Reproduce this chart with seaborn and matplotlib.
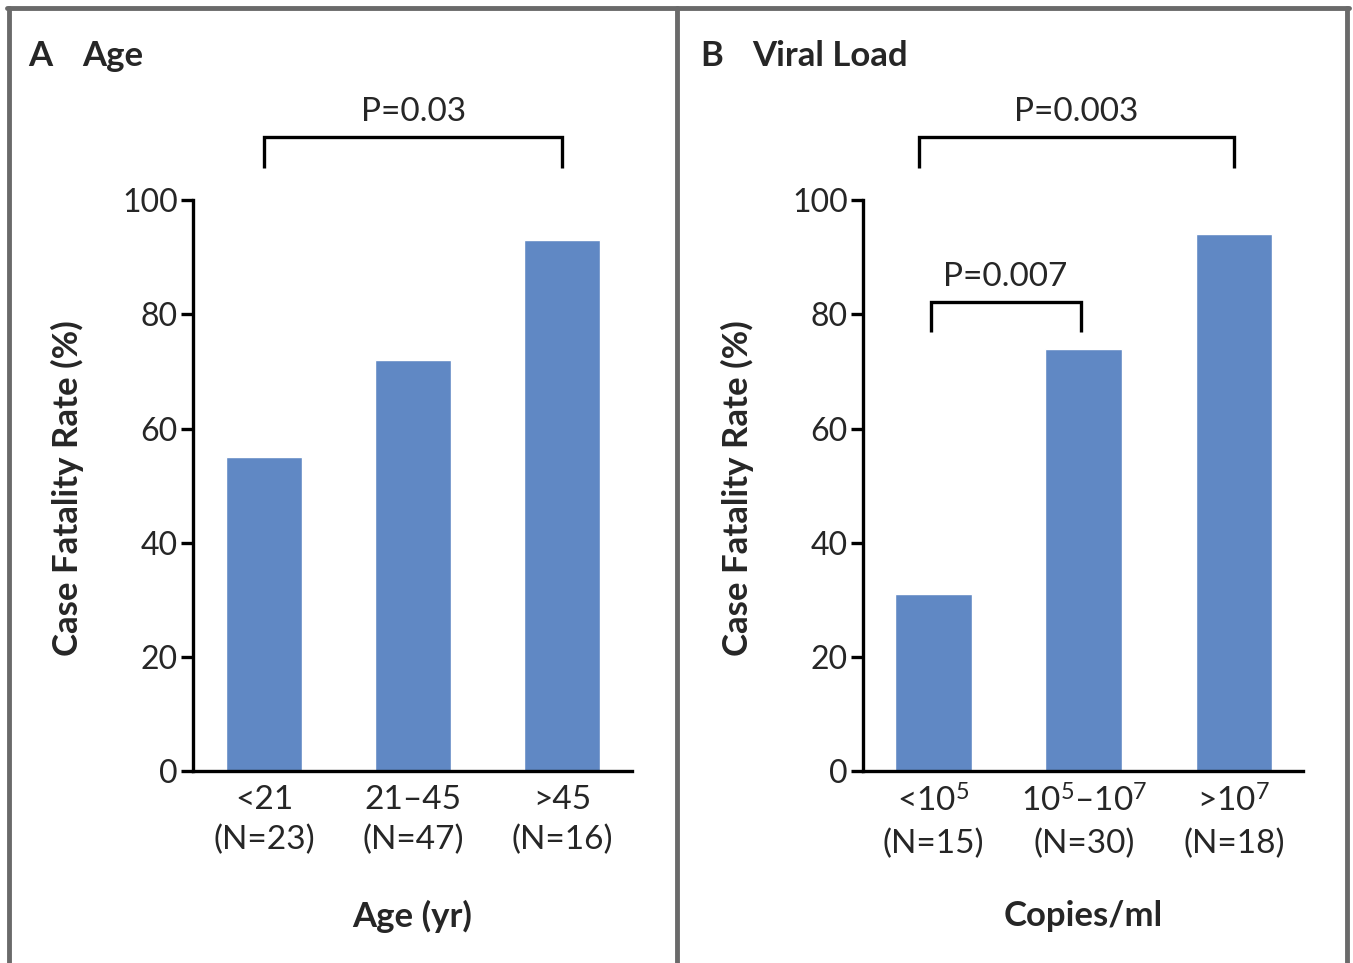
import matplotlib
matplotlib.use("Agg")
import matplotlib.pyplot as plt
import seaborn as sns
import pandas as pd
from matplotlib.lines import Line2D

# ---- data ----
age_groups = ["<21\n(N=23)", "21–45\n(N=47)", ">45\n(N=16)"]
age_cfr = [55, 72, 93]
viral_groups = ["<10$^{5}$\n(N=15)", "10$^{5}$–10$^{7}$\n(N=30)", ">10$^{7}$\n(N=18)"]
viral_cfr = [31, 74, 94]
y_ticks = [0, 20, 40, 60, 80, 100]

sns.set_theme(style="white")
plt.rcParams['font.family'] = ['Lato', 'DejaVu Sans']
plt.rcParams['mathtext.fontset'] = 'custom'
plt.rcParams['mathtext.rm'] = 'Lato'
plt.rcParams['mathtext.it'] = 'Lato'
plt.rcParams['mathtext.bf'] = 'Lato:bold'

BAR = "#6088C4"
FS_Y = 23
FS_X = 24
FS_P = 24
FS_LAB = 25
FS_T = 25

fig = plt.figure(figsize=(13.53, 9.63), dpi=100)
W, H = 1353, 963

def fx(px):
    return px / W

def fy(py):
    return 1 - py / H

axA = fig.add_axes([fx(193), fy(771), fx(632 - 193), (771 - 86) / H])
axB = fig.add_axes([fx(863), fy(771), fx(1303 - 863), (771 - 86) / H])

dfA = pd.DataFrame({"group": age_groups, "cfr": age_cfr})
dfB = pd.DataFrame({"group": viral_groups, "cfr": viral_cfr})

sns.barplot(data=dfA, x="group", y="cfr", color=BAR, width=0.51, saturation=1, ax=axA)
sns.barplot(data=dfB, x="group", y="cfr", color=BAR, width=0.51, saturation=1, ax=axB)

def style(ax, xlabel, xl):
    ax.set_ylim(0, 120)
    ax.set_xlim(*xl)
    ax.set_yticks(y_ticks)
    ax.set_yticklabels([str(t) for t in y_ticks], fontsize=FS_Y)
    for s in ["top", "right"]:
        ax.spines[s].set_visible(False)
    for s in ["left", "bottom"]:
        ax.spines[s].set_color("black")
        ax.spines[s].set_linewidth(2.4)
    ax.spines["left"].set_bounds(0, 100)
    ax.tick_params(axis="y", length=9, width=2.4, color="black", pad=2, labelsize=FS_Y,
                   direction="out", left=True)
    ax.tick_params(axis="x", length=0, pad=10, labelsize=FS_X)
    for lab in ax.get_xticklabels():
        lab.set_linespacing(1.42)
    ax.set_ylabel("Case Fatality Rate (%)", fontsize=FS_LAB, fontweight="bold", va="center")
    ax.yaxis.set_label_coords(-0.285, 0.413)
    ax.set_xlabel(xlabel, fontsize=FS_LAB, fontweight="bold", va="center")
    ax.xaxis.set_label_coords(0.5, -0.212)
    ax.patch.set_alpha(0)

style(axA, "Age (yr)", (-0.48, 2.47))
style(axB, "Copies/ml", (-0.47, 2.46))

def bracket(ax, x0, x1, ytop, ybot, text, ytext):
    ax.plot([x0, x0, x1, x1], [ybot, ytop, ytop, ybot], color="black", lw=2.4,
            clip_on=False, solid_joinstyle="miter", solid_capstyle="butt")
    ax.text((x0 + x1) / 2, ytext, text, ha="center", va="center", fontsize=FS_P, clip_on=False)

bracket(axA, 0, 2, 111, 105.6, "P=0.03", 115.4)
bracket(axB, -0.1, 2, 111, 105.6, "P=0.003", 115.4)
bracket(axB, -0.02, 0.98, 82.1, 76.9, "P=0.007", 86.6)

# panel titles
fig.text(fx(28), fy(66), "A", fontsize=FS_T, fontweight="bold", va="baseline")
fig.text(fx(82), fy(66), "Age", fontsize=FS_T, fontweight="bold", va="baseline")
fig.text(fx(700), fy(66), "B", fontsize=FS_T, fontweight="bold", va="baseline")
fig.text(fx(752), fy(66), "Viral Load", fontsize=FS_T, fontweight="bold", va="baseline")

# panel borders
GRAY = "#6a6a6a"
fig.add_artist(Line2D([fx(7), fx(1349)], [fy(8), fy(8)], color=GRAY, lw=3.5, transform=fig.transFigure))
for xp in [9, 677, 1347]:
    fig.add_artist(Line2D([fx(xp), fx(xp)], [fy(8), 0], color=GRAY, lw=3.5, transform=fig.transFigure))

fig.savefig("out.png", dpi=100, facecolor="white")
